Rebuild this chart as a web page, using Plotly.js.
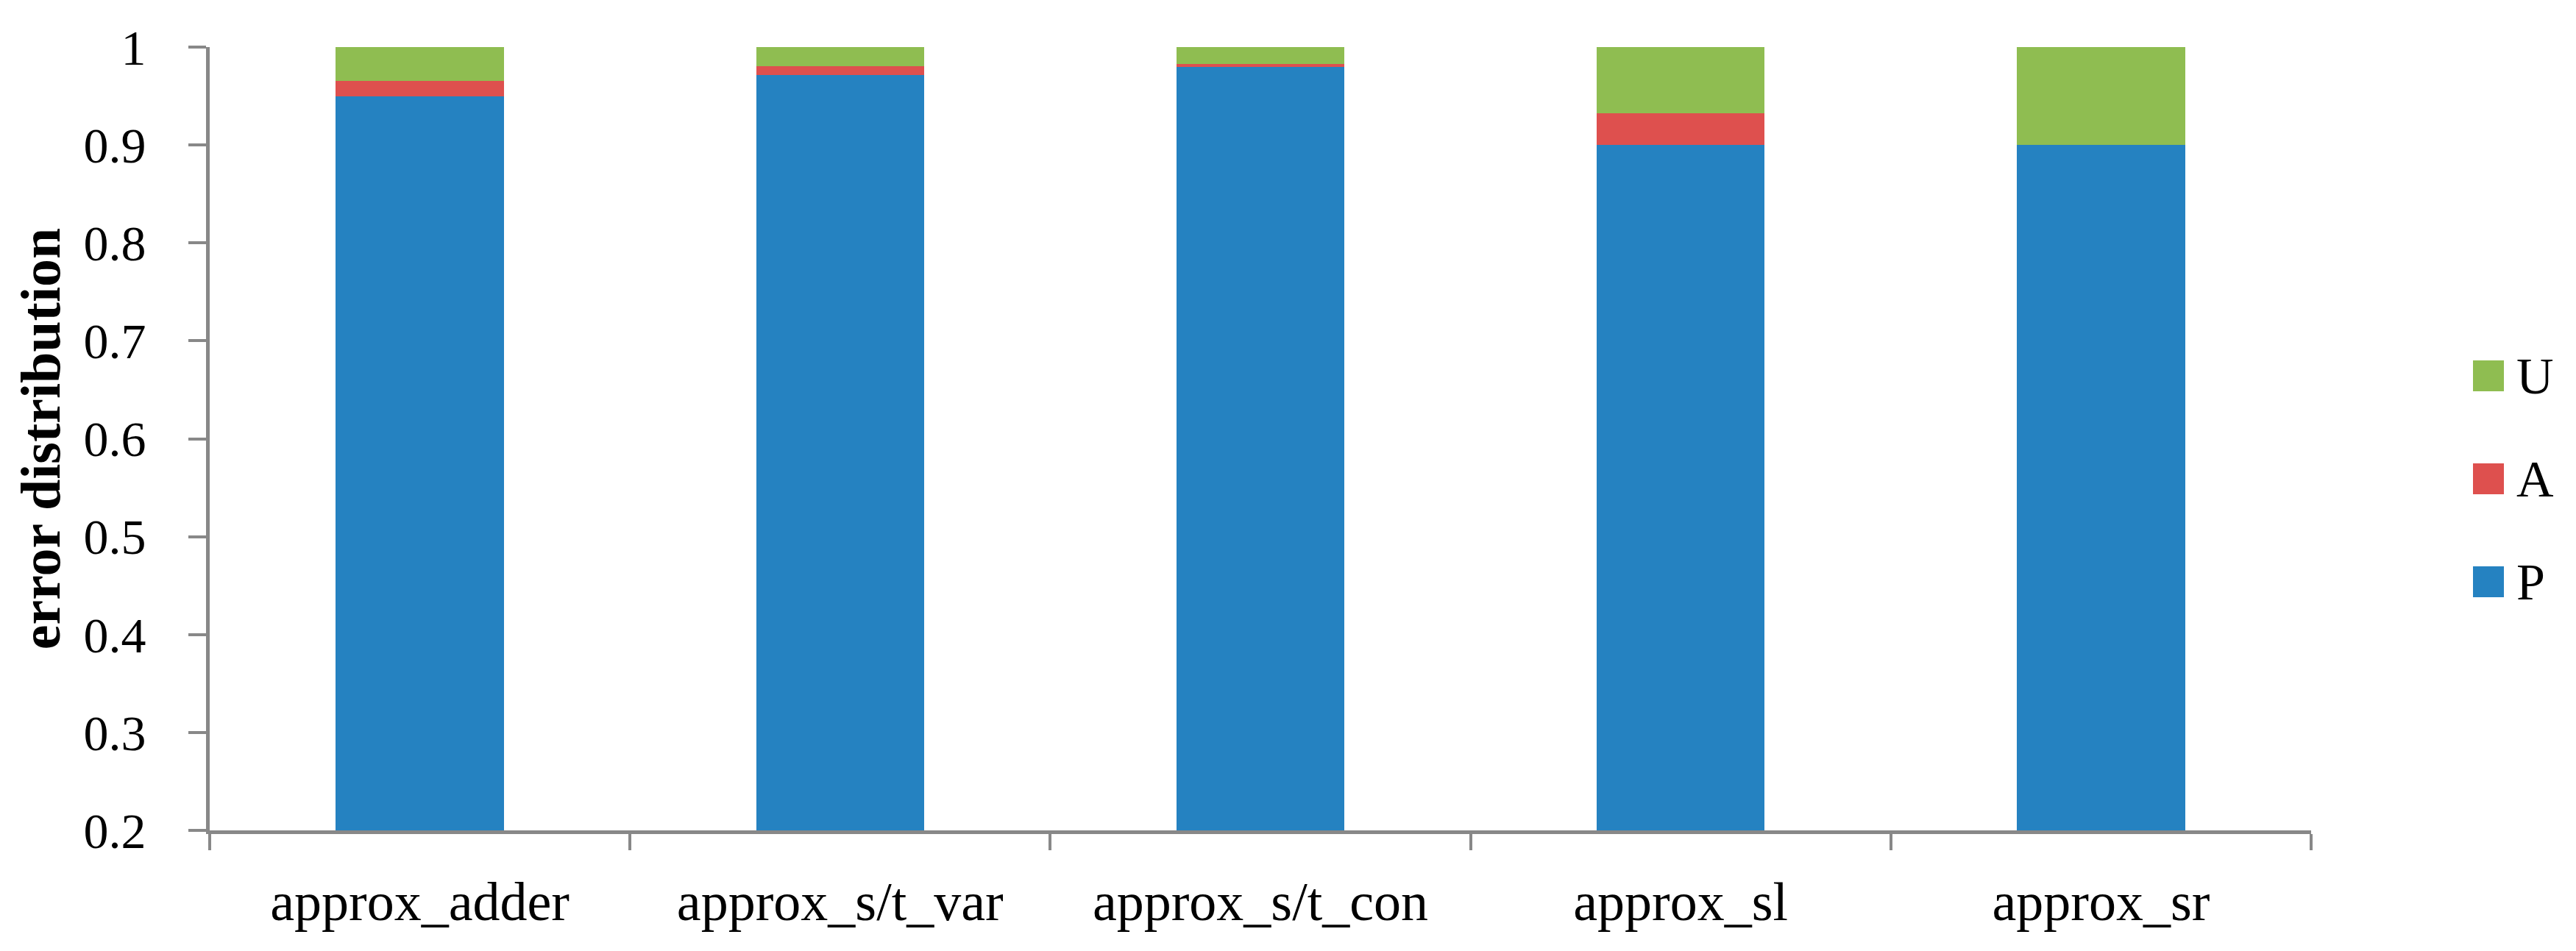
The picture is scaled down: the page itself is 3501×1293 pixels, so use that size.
<!DOCTYPE html>
<html>
<head>
<meta charset="utf-8">
<script src="https://cdn.plot.ly/plotly-3.0.1.min.js"></script>
<style>
  html, body { margin: 0; padding: 0; background: #fff; }
  #plot { width: 3501px; height: 1293px; }
</style>
</head>
<body>
<div id="plot"></div>
<script>
const categories = ["approx_adder", "approx_s/t_var", "approx_s/t_con", "approx_sl", "approx_sr"];
const valuesP = [0.950, 0.9715, 0.980, 0.900, 0.900];
const valuesA = [0.0155, 0.009, 0.003, 0.0326, 0.0];
const valuesU = [0.0345, 0.0195, 0.017, 0.0674, 0.100];
const seriesNames = ["U", "A", "P"];
const yTicks = [0.2, 0.3, 0.4, 0.5, 0.6, 0.7, 0.8, 0.9, 1];

const colors = { P: "#2582c1", A: "#de504e", U: "#8fbd51" };
const font = "Liberation Serif, Times New Roman, serif";
const axisGrey = "#888888";

const traces = [
  { name: "P", y: valuesP, color: colors.P },
  { name: "A", y: valuesA, color: colors.A },
  { name: "U", y: valuesU, color: colors.U },
].map(s => ({
  type: "bar",
  x: categories,
  y: s.y,
  name: s.name,
  marker: { color: s.color, line: { width: 0 } },
  hoverinfo: "x+y+name",
  showlegend: false
}));

// legend drawn by hand so the swatches can be large
const shapes = [];
const annotations = [];
seriesNames.forEach((n, i) => {
  const yc = 511 + i * 140;
  shapes.push({
    type: "rect", xref: "paper", yref: "paper", layer: "above",
    x0: (3361 - 285) / 2856, x1: (3403 - 285) / 2856,
    y0: 1 - (yc - 21 - 64) / 1065, y1: 1 - (yc + 21 - 64) / 1065,
    fillcolor: colors[n], line: { width: 0 }
  });
  annotations.push({
    xref: "paper", yref: "paper", showarrow: false,
    x: (3418 - 285) / 2856, y: 1 - (yc - 64) / 1065,
    xanchor: "left", yanchor: "middle",
    text: n, font: { family: font, size: 70, color: "#000" }
  });
});

Plotly.newPlot("plot", traces, {
  width: 3501,
  height: 1293,
  barmode: "stack",
  bargap: 0.6,
  paper_bgcolor: "#fff",
  plot_bgcolor: "#fff",
  margin: { l: 285, r: 360, t: 64, b: 164 },
  font: { family: font, size: 66, color: "#000" },
  xaxis: {
    type: "category",
    showline: true, linecolor: axisGrey, linewidth: 5,
    ticks: "outside", tickson: "boundaries", ticklen: 22, tickwidth: 4, tickcolor: axisGrey,
    showgrid: false, zeroline: false,
    tickfont: { family: font, size: 74, color: "#000" },
    ticklabelstandoff: 28
  },
  yaxis: {
    range: [0.2, 1],
    tickvals: yTicks,
    ticktext: yTicks.map(v => String(v)),
    showline: true, linecolor: axisGrey, linewidth: 5,
    ticks: "outside", ticklen: 24, tickwidth: 4, tickcolor: axisGrey,
    showgrid: false, zeroline: false,
    tickfont: { family: font, size: 68, color: "#000" },
    ticklabelstandoff: 44,
    title: { text: "<b>error distribution</b>", standoff: 8, font: { family: font, size: 76, color: "#000" } }
  },
  shapes: shapes,
  annotations: annotations
}, { displayModeBar: false, staticPlot: true });
</script>
</body>
</html>
